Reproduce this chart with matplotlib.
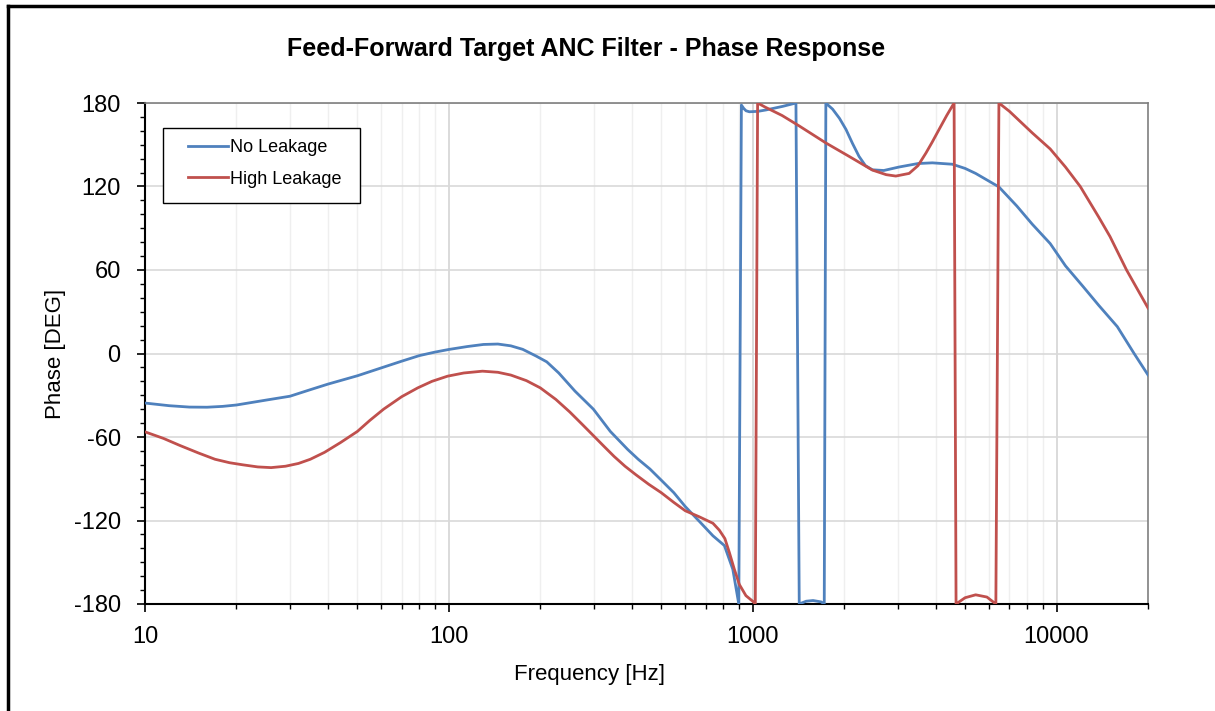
import matplotlib
matplotlib.use("Agg")
import matplotlib.pyplot as plt
from matplotlib.lines import Line2D
from matplotlib.patches import Rectangle
from matplotlib.ticker import LogLocator, NullFormatter, FixedLocator, MultipleLocator

plt.rcParams['font.family'] = ['Liberation Sans', 'DejaVu Sans']
plt.rcParams['axes.unicode_minus'] = False

# No Leakage (wrapped phase, deg)
freq_no = [10, 12, 14, 16, 18, 20, 25, 30, 35, 40, 50, 60, 70, 80, 90, 100,
           115, 130, 145, 160, 175, 194, 210, 230, 260, 299, 340, 388, 420,
           459, 500, 550, 600, 670, 740, 807, 860, 900,
           918, 935, 951, 975, 1040, 1106, 1256, 1388,
           1423, 1500, 1580, 1680, 1720,
           1741, 1760, 1832, 1930, 2028, 2130, 2239, 2350, 2477, 2700, 3032,
           3500, 3902, 4539, 5000, 5418, 6462, 7400, 8313, 9530, 10700,
           12240, 13770, 15850, 18000, 20000]
phase_no = [-35.6, -37.5, -38.5, -38.6, -38, -37, -33.5, -30.7, -26, -22, -16, -10.3, -5.5, -1.5, 1, 2.9,
            5, 6.5, 6.8, 5.5, 3, -1.9, -6, -14, -27, -40, -56, -69, -76,
            -83, -91, -100, -110, -121, -131, -138, -155, -180,
            178.5, 176, 174.4, 173.7, 174, 175, 177.6, 180,
            -180, -178, -177.5, -178.5, -180,
            180, 179, 175.6, 169, 161, 151, 141.6, 135, 132, 131.5, 134,
            136.5, 137, 136, 133, 129.4, 119.7, 106, 93, 79, 63,
            48, 34.6, 19.3, 0, -15.4]

# High Leakage (wrapped phase, deg)
freq_hi = [10, 11.5, 13, 15, 17, 19, 21, 23.5, 26, 29, 32, 35, 39, 44, 50, 55,
           61, 70, 79, 88, 99, 112, 129, 145, 160, 180, 200, 225, 250, 275,
           299, 325, 350, 380, 412, 455, 500, 550, 600, 668, 740, 777, 810,
           838, 870, 904, 950, 1000, 1020,
           1038, 1100, 1250, 1423, 1741, 2078, 2477, 2750, 2958, 3273, 3500,
           3716, 3900, 4106, 4350, 4601,
           4670, 5000, 5418, 5900, 6314,
           6462, 7000, 8313, 9530, 10700, 11970, 13770, 15000, 17000, 20000]
phase_hi = [-56.3, -61, -66, -71.5, -76, -78.5, -80, -81.5, -82, -81, -79, -76, -71, -64, -56, -48,
            -40, -31, -24.7, -20, -16.3, -14, -12.7, -13.5, -15.5, -19.5, -24.7, -33, -42, -51,
            -59, -67, -74, -81, -87, -94, -100, -107, -113, -117.4, -122, -127, -133,
            -143, -155, -166, -174, -178, -180,
            180, 177, 171, 163.5, 151.3, 141.6, 131.8, 128.5, 127.5, 129.4, 135,
            144, 152, 161, 171, 180,
            -180, -175.5, -173.4, -175, -180,
            180, 174, 158.6, 147, 134, 120, 98, 84, 60, 32.7]

fig = plt.figure(figsize=(12.15, 7.11), dpi=100)
ax = fig.add_axes([145 / 1215, 107 / 711, 1003 / 1215, 501 / 711])

ax.plot(freq_no, phase_no, color='#4F81BD', lw=2.0, label='No Leakage', zorder=3)
ax.plot(freq_hi, phase_hi, color='#C0504D', lw=2.0, label='High Leakage', zorder=3)

ax.set_xscale('log')
ax.set_xlim(10, 20000)
ax.set_ylim(-180, 180)
ax.xaxis.set_major_locator(FixedLocator([10, 100, 1000, 10000]))
ax.xaxis.set_major_formatter(plt.FuncFormatter(lambda v, p: f"{int(v)}"))
ax.xaxis.set_minor_locator(LogLocator(base=10, subs=range(2, 10), numticks=20))
ax.xaxis.set_minor_formatter(NullFormatter())
ax.yaxis.set_major_locator(MultipleLocator(60))
ax.yaxis.set_minor_locator(MultipleLocator(10))

ax.grid(which='major', axis='x', color='#d4d4d4', lw=1.2)
ax.grid(which='minor', axis='x', color='#efefef', lw=1.0)
ax.grid(which='major', axis='y', color='#d9d9d9', lw=1.2)
ax.set_axisbelow(True)

ax.tick_params(which='major', direction='out', length=5.5, width=1.2, labelsize=17, colors='black')
ax.tick_params(which='minor', direction='out', length=3.6, width=1.0)
ax.tick_params(axis='y', which='major', pad=12)
ax.tick_params(axis='x', which='major', pad=10)

for s in ['left', 'bottom']:
    ax.spines[s].set_color('black')
    ax.spines[s].set_linewidth(1.5)
for s in ['top', 'right']:
    ax.spines[s].set_color('#7f7f7f')
    ax.spines[s].set_linewidth(1.2)

ax.set_xlabel('Frequency [Hz]', fontsize=16)
ax.xaxis.set_label_coords((590 - 145) / 1003, -(664 - 604) / 501)
ax.set_ylabel('Phase [DEG]', fontsize=16)
ax.yaxis.set_label_coords(-(145 - 66) / 1003, 0.5)
fig.text(0.482, 0.931, 'Feed-Forward Target ANC Filter - Phase Response',
         ha='center', va='center', fontsize=18, fontweight='bold')

# legend: entries without frame, box drawn separately
ax.legend(loc='upper left', bbox_to_anchor=(0.0429, 0.928), fontsize=13,
          frameon=False, borderpad=0, labelspacing=0.8, handlelength=2.2,
          handletextpad=0.1, borderaxespad=0)
ax.add_patch(Rectangle((0.0179, 0.8004), 0.1965, 0.1496, transform=ax.transAxes,
                       facecolor='white', edgecolor='black', lw=1.0, zorder=4))
ax.get_legend().set_zorder(5)

# outer chart frame (top and left edges visible)
fig.add_artist(Line2D([8 / 1215, 1.0], [1 - 6 / 711, 1 - 6 / 711], color='black', lw=2.5,
                      transform=fig.transFigure))
fig.add_artist(Line2D([8 / 1215, 8 / 1215], [0, 1 - 6 / 711], color='black', lw=2.5,
                      transform=fig.transFigure))

fig.savefig('out.png', dpi=100)
